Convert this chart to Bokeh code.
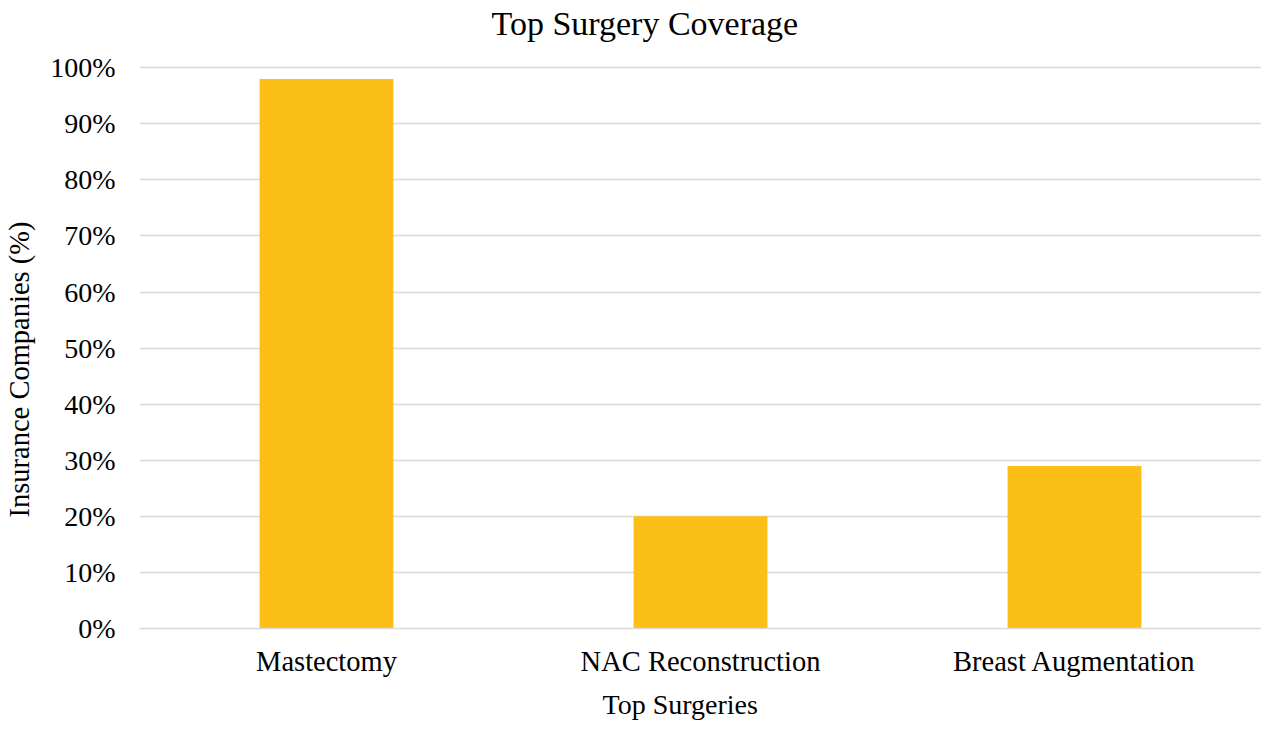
from bokeh.plotting import figure
from bokeh.models import FactorRange, Range1d, NumeralTickFormatter, FixedTicker, Title, ColumnDataSource
from bokeh.embed import file_html
from bokeh.resources import INLINE

categories = ["Mastectomy", "NAC Reconstruction", "Breast Augmentation"]
coverage = [0.98, 0.20, 0.29]
y_ticks = [0.0, 0.1, 0.2, 0.3, 0.4, 0.5, 0.6, 0.7, 0.8, 0.9, 1.0]

FONT = "Liberation Serif"
TXT = "#000000"
GRID = "#D9D9D9"
BAR = "#FCBF17"

src = ColumnDataSource(dict(cat=categories, val=coverage))

p = figure(
    x_range=FactorRange(*categories),
    y_range=Range1d(0, 1.004),
    width=1261, height=726,
    output_backend="svg", toolbar_location=None,
    min_border_left=139, min_border_right=0,
    min_border_top=65, min_border_bottom=98,
)

p.vbar(x="cat", top="val", width=0.358, source=src, fill_color=BAR, line_color=None)

# spacer between plot frame and the chart title, then the title itself
top_spacer = Title(text=" ", text_font=FONT, text_font_size="10px", standoff=10)
p.add_layout(top_spacer, "above")
main_title = Title(text="Top Surgery Coverage", align="left", offset=352,
                   text_font=FONT, text_font_size="34px", text_font_style="normal",
                   text_color=TXT, standoff=2)
p.add_layout(main_title, "above")

# spacer between y axis and its title, then the title
left_spacer = Title(text=" ", text_font=FONT, text_font_size="8px", standoff=1)
p.add_layout(left_spacer, "left")
ylab = Title(text="Insurance Companies (%)", align="left", offset=111,
             text_font=FONT, text_font_size="28.5px", text_font_style="normal",
             text_color=TXT, standoff=2)
p.add_layout(ylab, "left")

xlab = Title(text="Top Surgeries", align="left", offset=463,
             text_font=FONT, text_font_size="28px", text_font_style="normal",
             text_color=TXT, standoff=14)
p.add_layout(xlab, "below")

p.outline_line_color = None
p.xgrid.grid_line_color = None
p.ygrid.grid_line_color = GRID
p.ygrid.grid_line_width = 1.5
p.yaxis.ticker = FixedTicker(ticks=y_ticks)
p.yaxis.formatter = NumeralTickFormatter(format="0%")

for ax in (p.xaxis, p.yaxis):
    ax.major_tick_line_color = None
    ax.minor_tick_line_color = None
    ax.major_label_text_font = FONT
    ax.major_label_text_color = TXT

p.yaxis.major_label_text_font_size = "28px"
p.xaxis.major_label_text_font_size = "28.5px"
p.yaxis.axis_line_color = None
p.yaxis.major_label_standoff = 18
p.xaxis.axis_line_color = GRID
p.xaxis.axis_line_width = 1.5
p.xaxis.major_label_standoff = 11

open("out.html", "w").write(file_html(p, INLINE))
